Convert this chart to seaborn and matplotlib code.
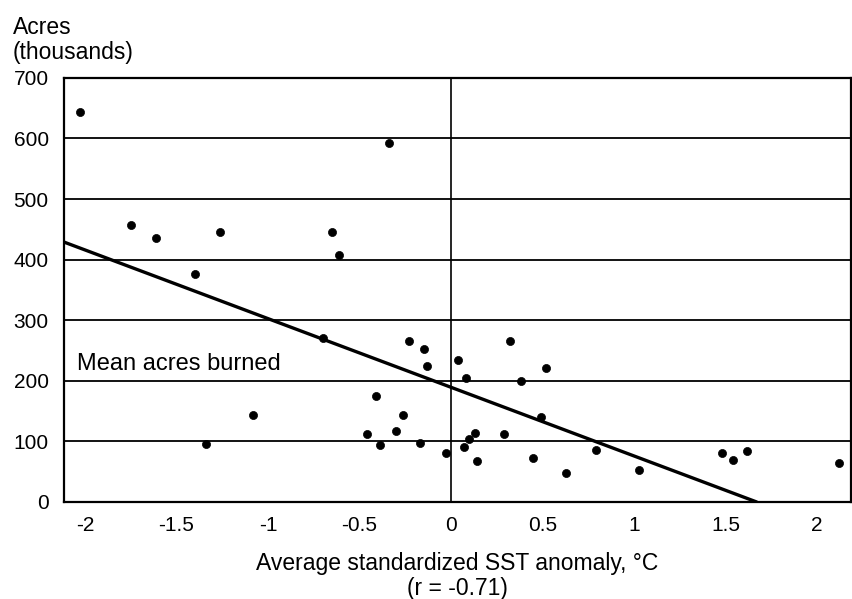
import numpy as np
import pandas as pd
import seaborn as sns
import matplotlib.pyplot as plt

# values
sst = [-2.03, -1.75, -1.61, -1.40, -1.26, -1.34, -1.08, -0.70, -0.65, -0.61,
       -0.34, -0.46, -0.41, -0.39, -0.30, -0.26, -0.23, -0.17, -0.15, -0.13,
       -0.03, 0.04, 0.07, 0.08, 0.10, 0.13, 0.14, 0.29, 0.32, 0.38,
       0.45, 0.49, 0.52, 0.63, 0.79, 1.03, 1.48, 1.54, 1.62, 2.12]
acres = [644, 457, 436, 376, 446, 96, 144, 271, 446, 408,
         593, 113, 175, 94, 117, 143, 266, 97, 252, 224,
         80, 234, 91, 205, 104, 114, 68, 113, 265, 200,
         73, 141, 221, 47, 86, 52, 81, 70, 84, 64]

# regression line end points as drawn
fit_x = [-2.115, 1.67]
fit_y = [429, 0]

x_ticks = [-2, -1.5, -1, -0.5, 0, 0.5, 1, 1.5, 2]
x_tick_labels = ['-2', '-1.5', '-1', '-0.5', '0', '0.5', '1', '1.5', '2']
y_ticks = [0, 100, 200, 300, 400, 500, 600, 700]
mean_acres = 200

sns.set_style("white")
plt.rcParams['font.family'] = ['Liberation Sans', 'DejaVu Sans']
plt.rcParams['text.color'] = 'black'
plt.rcParams['axes.labelcolor'] = 'black'

df = pd.DataFrame({'sst': sst, 'acres': acres})
fit = pd.DataFrame({'sst': fit_x, 'acres': fit_y})

fig = plt.figure(figsize=(8.53, 5.99), dpi=100)
ax = fig.add_axes([0.075, 0.162, 0.9227, 0.708])

# horizontal grid + zero line
for y in y_ticks[1:-1]:
    ax.axhline(y, color='black', lw=1.3, zorder=1)
ax.axvline(0, color='black', lw=1.2, zorder=1)

sns.lineplot(data=fit, x='sst', y='acres', color='black', lw=2.4, ax=ax, zorder=2)
sns.scatterplot(data=df, x='sst', y='acres', color='black', s=34,
                edgecolor='black', linewidth=0.5, ax=ax, zorder=3)

ax.text(-2.045, mean_acres + 18, 'Mean acres burned', fontsize=17, va='baseline', ha='left')

ax.set_xlim(-2.115, 2.186)
ax.set_ylim(0, 700)
ax.set_xticks(x_ticks)
ax.set_xticklabels(x_tick_labels)
ax.set_yticks(y_ticks)
ax.tick_params(axis='x', direction='in', length=8, width=1.3, pad=10, labelsize=15, colors='black')
ax.tick_params(axis='y', length=0, pad=11, labelsize=15, colors='black')
for sp in ax.spines.values():
    sp.set_color('black')
    sp.set_linewidth(1.6)

ax.set_xlabel('Average standardized SST anomaly, \u00b0C\n(r = -0.71)', fontsize=16.5,
              labelpad=12, linespacing=1.15)
ax.set_ylabel('')
fig.text(0.015, 0.974, 'Acres\n(thousands)', fontsize=16.5, ha='left', va='top', linespacing=1.12)

fig.savefig('out.png', dpi=100)
